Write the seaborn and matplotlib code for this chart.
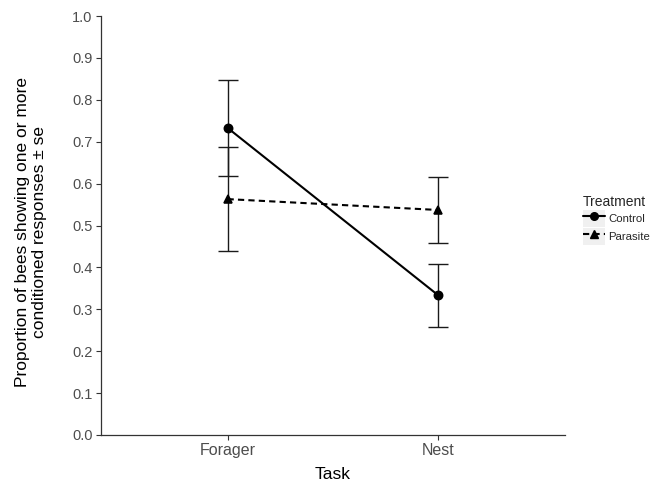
import matplotlib
matplotlib.use("Agg")
import matplotlib.pyplot as plt
import seaborn as sns
import pandas as pd
from matplotlib.lines import Line2D
from matplotlib.patches import Rectangle
from matplotlib.legend_handler import HandlerTuple

tasks = ["Forager", "Nest"]
treatments = ["Control", "Parasite"]
control_mean = [0.733, 0.333]
control_se = [0.115, 0.075]
parasite_mean = [0.563, 0.537]
parasite_se = [0.125, 0.078]
yticks = [0.0, 0.1, 0.2, 0.3, 0.4, 0.5, 0.6, 0.7, 0.8, 0.9, 1.0]

df = pd.DataFrame({
    "Task": tasks * 2,
    "Treatment": ["Control"] * 2 + ["Parasite"] * 2,
    "mean": control_mean + parasite_mean,
    "se": control_se + parasite_se,
})

sns.set_theme(style="white")
plt.rcParams["font.family"] = ["Liberation Sans", "DejaVu Sans"]

fig = plt.figure(figsize=(6.51, 4.83), dpi=100)
ax = fig.add_axes([101 / 651, 1 - 435 / 483, (565 - 101) / 651, (435 - 16) / 483])

for tr in treatments:
    sub = df[df["Treatment"] == tr]
    ax.errorbar(range(len(sub)), sub["mean"], yerr=sub["se"], fmt="none",
                ecolor="#1a1a1a", elinewidth=1.0, capsize=7.5, capthick=1.0, zorder=2)

sns.pointplot(data=df, x="Task", y="mean", hue="Treatment", order=tasks,
              hue_order=treatments, palette=["black", "black"], markers=["o", "^"],
              linestyles=["-", (0, (3, 2))], errorbar=None, dodge=False, ax=ax,
              legend=False, markersize=6, linewidth=1.5)

ax.set_xlim(-0.6, 1.6)
ax.set_ylim(0, 1.0)
ax.set_yticks(yticks)
ax.set_yticklabels([f"{v:.1f}" for v in yticks])
for s in ["top", "right"]:
    ax.spines[s].set_visible(False)
for s in ["left", "bottom"]:
    ax.spines[s].set_color("#333333")
    ax.spines[s].set_linewidth(0.9)
ax.tick_params(axis="both", length=3.5, width=0.8, color="#333333",
               labelcolor="#4d4d4d", left=True, bottom=True, pad=2.5)
ax.tick_params(axis="y", labelsize=10.5)
ax.tick_params(axis="x", labelsize=11.5)
ax.set_xlabel("Task", fontsize=12.5, color="black")
ax.set_ylabel("Proportion of bees showing one or more\nconditioned responses ± se",
              fontsize=12.5, color="black", linespacing=1.2)
ax.yaxis.set_label_coords(-0.116, 0.485)
ax.xaxis.set_label_coords(0.5, -0.077)

bg1 = Rectangle((0, 0), 1, 1, facecolor="#f0f0f0", edgecolor="none")
bg2 = Rectangle((0, 0), 1, 1, facecolor="#f0f0f0", edgecolor="none")
handles = [(bg1, Line2D([0], [0], color="black", marker="o", ls="-", lw=1.5, ms=5.5)),
           (bg2, Line2D([0], [0], color="black", marker="^", ls=(0, (3, 2)), lw=1.5, ms=6))]
leg = fig.legend(handles, treatments, title="Treatment", loc="upper left",
                 bbox_to_anchor=(583 / 651, 1 - 195 / 483), frameon=False,
                 fontsize=8.2, title_fontsize=10.0, handlelength=1.9, handleheight=1.9,
                 handletextpad=0.3, labelspacing=0.1, borderaxespad=0, borderpad=0,
                 handler_map={tuple: HandlerTuple(ndivide=1, pad=0)})
leg._legend_box.align = "left"
fig.savefig("out.png", dpi=100)
